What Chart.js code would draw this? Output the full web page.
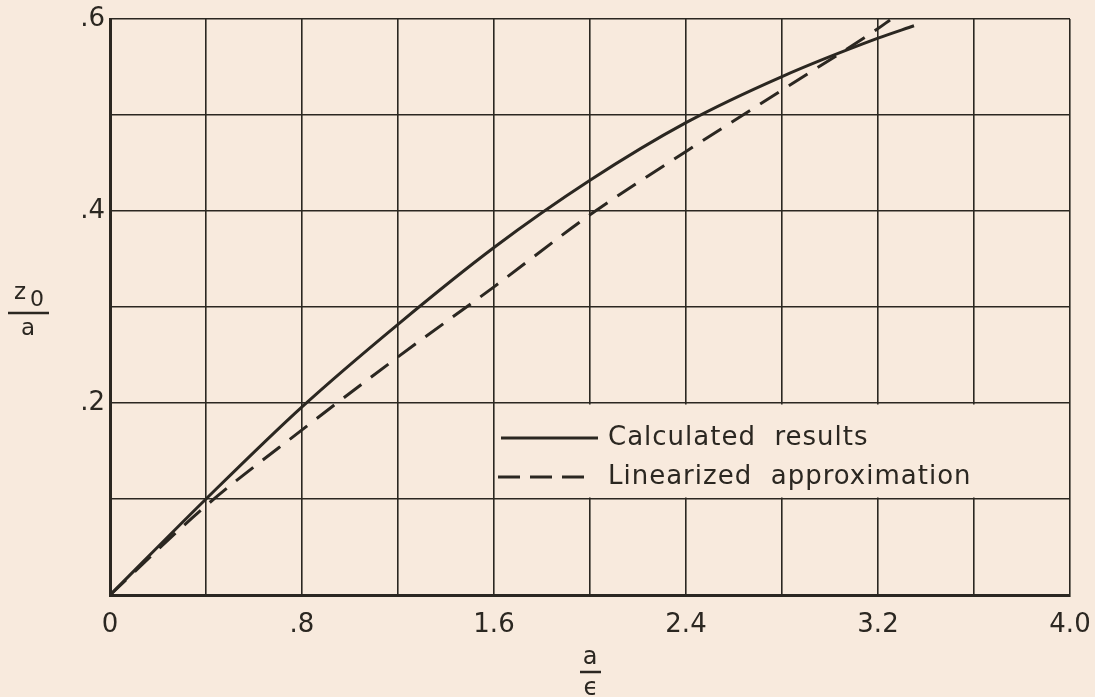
<!DOCTYPE html>
<html>
<head>
<meta charset="utf-8">
<script src="https://cdn.jsdelivr.net/npm/chart.js@4.4.0/dist/chart.umd.min.js"></script>
<style>
  html, body { margin: 0; padding: 0; background: #f8eadd; }
  #wrap { width: 1095px; height: 697px; }
</style>
</head>
<body>
<div id="wrap"><canvas id="chart"></canvas></div>
<script>
// Values
var calcX = [0, 0.4, 0.8, 1.2, 1.6, 2.0, 2.4, 2.8, 3.2, 3.35];
var calcY = [0, 0.100, 0.196, 0.282, 0.362, 0.432, 0.492, 0.540, 0.580, 0.593];
var linX = [0, 0.4, 0.8, 1.2, 1.6, 2.0, 2.4, 2.8, 3.2, 3.25];
var linY = [0, 0.093, 0.172, 0.248, 0.321, 0.396, 0.462, 0.526, 0.590, 0.599];
var xTickLabels = ["0", ".8", "1.6", "2.4", "3.2", "4.0"];
var yTickLabels = ["", ".2", ".4", ".6"];
var legendLabels = ["Calculated  results", "Linearized  approximation"];

var ink = "#2b2721";
var paper = "#f8eadd";

function toPoints(xs, ys) {
    var pts = [];
    for (var i = 0; i < xs.length; i++) {
        pts.push({ x: xs[i], y: ys[i] });
    }
    return pts;
}

// Legend box sits in the grid cell from x=1.6..4.0, y=0.1..0.2
var legendBox = {
    id: "legendBox",
    beforeDatasetsDraw: function(chart) {
        var ctx = chart.ctx;
        var xs = chart.scales.x, ys = chart.scales.y;
        var x1 = xs.getPixelForValue(1.6), x2 = xs.getPixelForValue(4.0);
        var y1 = ys.getPixelForValue(0.2), y2 = ys.getPixelForValue(0.1);
        ctx.save();
        ctx.fillStyle = paper;
        ctx.fillRect(x1 + 1.5, y1 + 1.5, x2 - x1 - 3, y2 - y1 - 3);
        ctx.strokeStyle = ink;
        ctx.lineWidth = 3;
        var rowY = [y1 + 35, y1 + 74];
        // solid sample
        ctx.beginPath();
        ctx.moveTo(x1 + 7, rowY[0]);
        ctx.lineTo(x1 + 104, rowY[0]);
        ctx.stroke();
        // dashed sample
        ctx.setLineDash([22, 10]);
        ctx.beginPath();
        ctx.moveTo(x1 + 4, rowY[1]);
        ctx.lineTo(x1 + 96, rowY[1]);
        ctx.stroke();
        ctx.setLineDash([]);
        ctx.fillStyle = ink;
        ctx.font = "26px 'DejaVu Sans'";
        ctx.textBaseline = "middle";
        ctx.letterSpacing = "1px";
        ctx.fillText(legendLabels[0], x1 + 114, rowY[0]);
        ctx.fillText(legendLabels[1], x1 + 114, rowY[1]);
        ctx.restore();
    }
};

// Axis titles drawn as stacked fractions
var axisTitles = {
    id: "axisTitles",
    afterDraw: function(chart) {
        var ctx = chart.ctx;
        ctx.save();
        ctx.fillStyle = ink;
        ctx.strokeStyle = ink;
        ctx.lineWidth = 2.5;
        ctx.textAlign = "center";
        ctx.textBaseline = "alphabetic";
        // x title: a / epsilon
        ctx.font = "24px 'DejaVu Sans'";
        ctx.fillText("a", 590, 664);
        ctx.beginPath();
        ctx.moveTo(580, 672);
        ctx.lineTo(601, 672);
        ctx.stroke();
        ctx.fillText("\u03f5", 591, 695);
        // y title: z0 / a
        ctx.font = "23px 'DejaVu Sans'";
        ctx.fillText("z", 20, 299);
        ctx.font = "22px 'DejaVu Sans'";
        ctx.fillText("0", 37, 306);
        ctx.beginPath();
        ctx.moveTo(8, 313);
        ctx.lineTo(49, 313);
        ctx.stroke();
        ctx.font = "23px 'DejaVu Sans'";
        ctx.fillText("a", 28, 335);
        ctx.restore();
    }
};

var ctx = document.getElementById("chart");
new Chart(ctx, {
    type: "scatter",
    data: {
        datasets: [{
            label: legendLabels[0],
            data: toPoints(calcX, calcY),
            showLine: true,
            borderColor: ink,
            borderWidth: 3,
            pointRadius: 0,
            cubicInterpolationMode: "monotone"
        }, {
            label: legendLabels[1],
            data: toPoints(linX, linY),
            showLine: true,
            borderColor: ink,
            borderWidth: 3,
            borderDash: [22, 12],
            pointRadius: 0,
            cubicInterpolationMode: "monotone"
        }]
    },
    options: {
        responsive: true,
        maintainAspectRatio: false,
        animation: false,
        layout: { padding: { top: 19, right: 25, left: 0, bottom: 0 } },
        plugins: {
            legend: { display: false },
            tooltip: { enabled: false }
        },
        scales: {
            x: {
                type: "linear",
                min: 0,
                max: 4.0,
                afterFit: function(scale) {
                    scale.height = 102;
                    scale.paddingLeft = 0;
                    scale.paddingRight = 0;
                },
                ticks: {
                    stepSize: 0.4,
                    autoSkip: false,
                    maxRotation: 0,
                    padding: 15,
                    color: ink,
                    font: { family: "'DejaVu Sans'", size: 26 },
                    callback: function(v) {
                        var k = Math.round(v / 0.4);
                        return k % 2 === 0 ? xTickLabels[k / 2] : "";
                    }
                },
                grid: { color: ink, lineWidth: 1.6, drawTicks: false },
                border: { color: ink, width: 3 }
            },
            y: {
                type: "linear",
                min: 0,
                max: 0.6,
                afterFit: function(scale) {
                    scale.width = 110;
                    scale.paddingTop = 0;
                    scale.paddingBottom = 0;
                },
                ticks: {
                    stepSize: 0.1,
                    autoSkip: false,
                    padding: 5,
                    color: ink,
                    font: { family: "'DejaVu Sans'", size: 26 },
                    callback: function(v) {
                        var k = Math.round(v * 10);
                        return k % 2 === 0 ? yTickLabels[k / 2] : "";
                    }
                },
                grid: { color: ink, lineWidth: 1.6, drawTicks: false },
                border: { color: ink, width: 3 }
            }
        }
    },
    plugins: [legendBox, axisTitles]
});
</script>
</body>
</html>
